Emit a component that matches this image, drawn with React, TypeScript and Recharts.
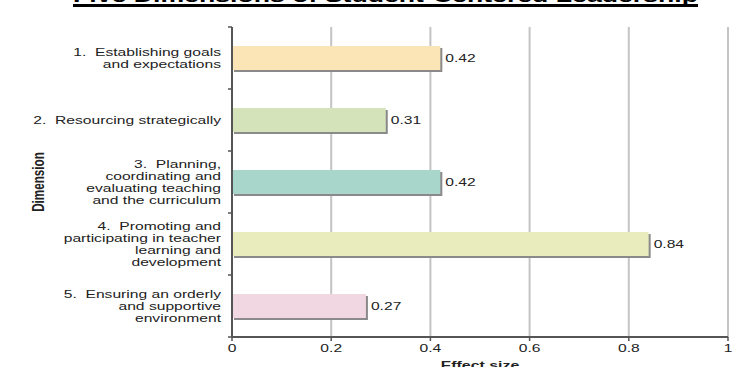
import React from 'react';
import { BarChart, Bar, XAxis, YAxis, CartesianGrid, LabelList } from 'recharts';

const title = 'Five Dimensions of Student-Centered Leadership';
const dimensions = [
  '1.  Establishing goals\nand expectations',
  '2.  Resourcing strategically',
  '3.  Planning,\ncoordinating and\nevaluating teaching\nand the curriculum',
  '4.  Promoting and\nparticipating in teacher\nlearning and\ndevelopment',
  '5.  Ensuring an orderly\nand supportive\nenvironment',
];
const effectSizes = [0.42, 0.31, 0.42, 0.84, 0.27];
const barColors = ['#FBE5B6', '#D5E3BA', '#A9D6CB', '#E9ECBD', '#F1D7E1'];
const xTicks = [0, 0.2, 0.4, 0.6, 0.8, 1];
const xAxisTitle = 'Effect size';
const yAxisTitle = 'Dimension';

const W = 747;
const H = 367;
const M = { top: 27, right: 19, bottom: 0, left: 0 };
const X_AXIS_H = 30;
const Y_AXIS_W = 232;
const STRETCH = 1.36;
const FONT = '"Liberation Sans", Arial, Helvetica, sans-serif';
const TEXT = '#222';
const AXIS = '#555';

const data = dimensions.map((name, i) => ({ name, value: effectSizes[i], color: barColors[i] }));
const bandHalf = (H - M.top - M.bottom - X_AXIS_H) / dimensions.length / 2;

function SText({ x, y, anchor = 'start', bold = false, size = 11.5, children }: any) {
  return (
    <g transform={`translate(${x},${y}) scale(${STRETCH},1)`}>
      <text x={0} y={0} textAnchor={anchor} fontFamily={FONT} fontSize={size}
        fontWeight={bold ? 'bold' : 'normal'} fill={TEXT} style={{ whiteSpace: 'pre' }}>
        {children}
      </text>
    </g>
  );
}

function CatTick(props: any) {
  const { x, y, payload, index } = props;
  const lines = String(payload.value).split('\n');
  const spacing = 12.2;
  const axisX = x + 11;
  return (
    <g>
      {lines.map((ln, i) => (
        <SText key={i} x={x} y={y + (i - (lines.length - 1) / 2) * spacing + 4} anchor="end">{ln}</SText>
      ))}
      {index === 0 && <line x1={axisX - 4} x2={axisX} y1={y - bandHalf} y2={y - bandHalf} stroke={AXIS} strokeWidth={1.5} />}
      <line x1={axisX - 4} x2={axisX} y1={y + bandHalf} y2={y + bandHalf} stroke={AXIS} strokeWidth={1.5} />
    </g>
  );
}

function NumTick(props: any) {
  const { x, y, payload } = props;
  return <SText x={x} y={y + 9} anchor="middle">{String(payload.value)}</SText>;
}

function ShadowBar(props: any) {
  const { x, y, width, height, payload } = props;
  return (
    <g>
      <rect x={x + 2} y={y + 2} width={width} height={height} fill="#8a8a8a" />
      <rect x={x} y={y} width={width} height={height} fill={payload.color} />
    </g>
  );
}

function ValueLabel(props: any) {
  const { x, y, width, height, value } = props;
  return <SText x={x + width + 5} y={y + height / 2 + 4}>{Number(value).toFixed(2)}</SText>;
}

function XTitle(props: any) {
  const vb = props.viewBox;
  return <SText x={vb.x + vb.width / 2} y={vb.y + 32} anchor="middle" bold size={11.7}>{xAxisTitle}</SText>;
}

function YTitle(props: any) {
  const vb = props.viewBox;
  const cy = vb.y + vb.height / 2;
  return (
    <g transform={`translate(${vb.x + 44},${cy}) scale(${STRETCH},1) rotate(-90)`}>
      <text x={0} y={0} textAnchor="middle" fontFamily={FONT} fontSize={11.7} fontWeight="bold" fill={TEXT}>{yAxisTitle}</text>
    </g>
  );
}

export default function App() {
  return (
    <div style={{ position: 'absolute', left: 0, top: 0, width: W, height: H, background: '#fff', overflow: 'hidden' }}>
      <BarChart width={W} height={H} data={data} layout="vertical" margin={M}>
        <CartesianGrid horizontal={false} vertical stroke="#c4c4c4" strokeWidth={2} />
        <XAxis type="number" domain={[0, 1]} ticks={xTicks} height={X_AXIS_H}
          axisLine={{ stroke: AXIS, strokeWidth: 2 }} tickLine={{ stroke: AXIS, strokeWidth: 1.5 }}
          tickSize={4} tickMargin={2} tick={<NumTick />} label={<XTitle />} interval={0} />
        <YAxis type="category" dataKey="name" width={Y_AXIS_W}
          axisLine={{ stroke: AXIS, strokeWidth: 2 }} tickLine={false} tickSize={4} tickMargin={7}
          tick={<CatTick />} label={<YTitle />} interval={0} />
        <Bar dataKey="value" barSize={24} shape={<ShadowBar />} isAnimationActive={false}>
          <LabelList dataKey="value" content={<ValueLabel />} />
        </Bar>
      </BarChart>
      <svg width={W} height={H} style={{ position: 'absolute', left: 0, top: 0, pointerEvents: 'none' }}>
        <text x={73} y={2} textLength={625} lengthAdjust="spacingAndGlyphs" fontFamily={FONT}
          fontSize={19} fontWeight="bold" fill="#000">{title}</text>
        <line x1={73} x2={698} y1={5.5} y2={5.5} stroke="#000" strokeWidth={3} />
      </svg>
    </div>
  );
}
